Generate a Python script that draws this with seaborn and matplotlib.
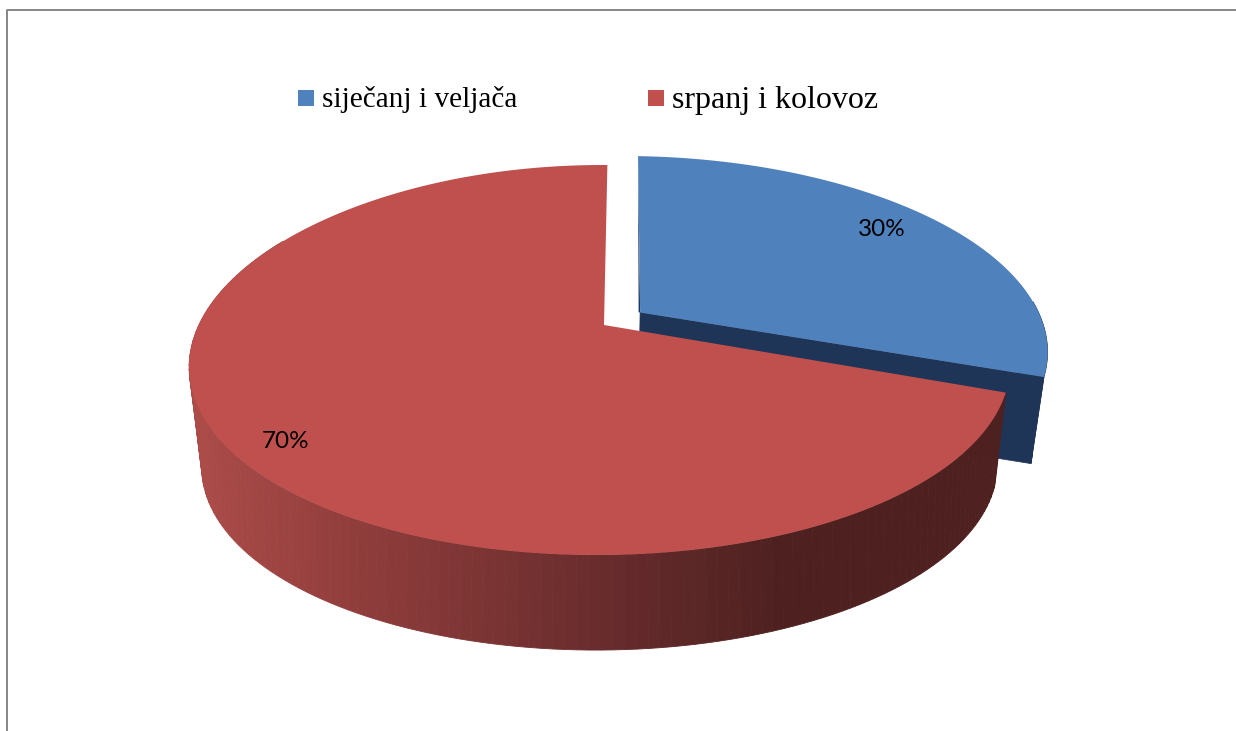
#!/usr/bin/env python3
import numpy as np
import seaborn as sns
import matplotlib.pyplot as plt
from matplotlib.lines import Line2D

# === 1. Data ===
categories = ["siječanj i veljača", "srpanj i kolovoz"]
shares = [30, 70]
pct_labels = ["30%", "70%"]

top_colors = ["#4F81BD", "#C0504D"]
blue_side = "#1F3557"

# === 2. Style ===
sns.set_theme(style="white")
plt.rcParams["font.family"] = ["Liberation Serif", "DejaVu Serif"]

fig = plt.figure(figsize=(12.36, 7.31), dpi=100)
ax = fig.add_axes([0, 0, 1, 1])
ax.set_xlim(0, 1236)
ax.set_ylim(731, 0)
ax.axis("off")

# === 3. Perspective of the disc (top plane and bottom plane) ===
TOP = dict(cx=604, cy=325, a=403.8, b=188.7, k=0.1795, m=0.0087, s=4, t=1, q=6)
BOTTOM = dict(cx=604, cy=418, a=388, b=181, k=0.22, m=0.0087, s=4, t=1, q=6)
# the pulled-out slice sits a little differently
BLUE_TOP = dict(TOP, a=408, m=0.005, t=5, q=0)
BLUE_BOTTOM = dict(BOTTOM, a=392, cy=413, m=0.005, t=5, q=0)


def project(u, v, p):
    w = 1 + p["k"] * v + p["m"] * u
    x = p["cx"] + (p["a"] * u + p["s"] * v) / w
    y = p["cy"] - p["b"] * v / w + p["t"] * u + p["q"] * u * u
    return x, y


def arc(start, end, du, dv, p, n=200):
    # angles in degrees, clockwise from north
    th = np.radians(np.linspace(start, end, n))
    return project(du + np.sin(th), dv + np.cos(th), p)


def wedge(start, end, du, dv, p):
    x, y = arc(start, end, du, dv, p)
    ax0, ay0 = project(du, dv, p)
    return np.r_[ax0, x], np.r_[ay0, y]


# slice angles come from the shares
split = 360 * shares[0] / sum(shares)

# === 4. Blue slice, pulled out ===
EX_U, EX_V = 0.089, 0.07
ax0, ay0 = project(EX_U, EX_V, BLUE_TOP)
bx0, by0 = project(EX_U, EX_V, BLUE_BOTTOM)
nx, ny = arc(0, 0, EX_U, EX_V, BLUE_TOP, n=1)
ex, ey = arc(split, split, EX_U, EX_V, BLUE_TOP, n=1)
fx, fy = arc(split, split, EX_U, EX_V, BLUE_BOTTOM, n=1)
ax.fill([ax0, ex[0], fx[0], bx0], [ay0, ey[0], fy[0], by0], color=blue_side, lw=0.5, zorder=2)
# thin dark edge on the inner side
ax.fill([nx[0], ax0 - 1.5, ax0], [ny[0], ay0, ay0], color=blue_side, lw=0, zorder=2)
# outer wall
x1, y1 = arc(85, split, EX_U, EX_V, BLUE_TOP)
x2, y2 = arc(85, split, EX_U, EX_V, BLUE_BOTTOM)
ax.fill(np.r_[x1, x2[::-1]], np.r_[y1, y2[::-1]], color=blue_side, lw=0.5, zorder=2)
bx, by = wedge(0, split, EX_U, EX_V, BLUE_TOP)
ax.fill(bx, by, color=top_colors[0], lw=0, zorder=3)

# === 5. Red slice: shaded wall in thin strips, then top ===
shade_x = [190, 350, 600, 780, 1010]
shade_r = [172, 145, 105, 78, 78]
shade_g = [76, 62, 44, 33, 33]
shade_b = [73, 60, 45, 32, 32]
angles = np.linspace(split, 300, 140)
for a0, a1 in zip(angles[:-1], angles[1:]):
    x1, y1 = arc(a0, a1, 0, 0, TOP, n=4)
    x2, y2 = arc(a0, a1, 0, 0, BOTTOM, n=4)
    mid = x1.mean()
    col = (
        np.interp(mid, shade_x, shade_r) / 255,
        np.interp(mid, shade_x, shade_g) / 255,
        np.interp(mid, shade_x, shade_b) / 255,
    )
    ax.fill(np.r_[x1, x2[::-1]], np.r_[y1, y2[::-1]], color=col, lw=0.6, zorder=4)
rx, ry = wedge(split, 360, 0, 0, TOP)
ax.fill(rx, ry, color=top_colors[1], lw=0, zorder=5)

# === 6. Labels ===
ax.text(882, 229, pct_labels[0], family="Lato", fontsize=17.5, color="black",
        ha="center", va="center", zorder=6)
ax.text(286, 441, pct_labels[1], family="Lato", fontsize=17.5, color="black",
        ha="center", va="center", zorder=6)

handles = [
    Line2D([], [], ls="none", marker="s", ms=11.5, mew=0, color=c) for c in top_colors
]
leg = ax.legend(handles, categories, ncol=2, frameon=False, fontsize=21.1,
                loc="center left", bbox_to_anchor=(291.5, 100.5), bbox_transform=ax.transData,
                borderpad=0, borderaxespad=0, labelcolor="black",
                handletextpad=0.04, columnspacing=4.23, handlelength=1.0, labelspacing=0)
leg.get_texts()[0].set_y(1)
leg.get_texts()[1].set_fontsize(23)
leg.get_texts()[1].set_y(0)

# === 7. Outer frame ===
ax.plot([7, 7, 1236], [731, 10, 10], color="#868686", lw=1.4, zorder=1)

fig.savefig("out.png", dpi=100)
